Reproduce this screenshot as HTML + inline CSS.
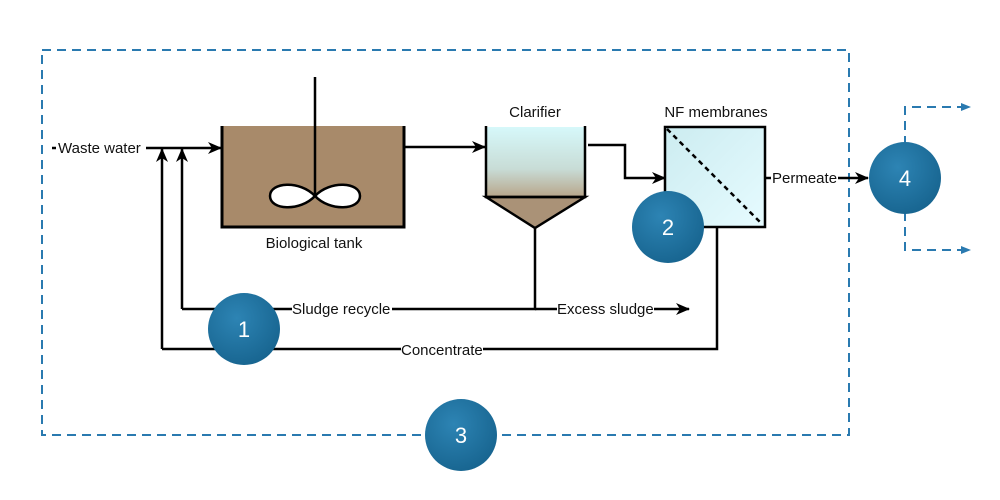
<!DOCTYPE html>
<html><head><meta charset="utf-8"><style>
html,body{margin:0;padding:0;background:#fff;}
svg{display:block;}
text{font-family:"Liberation Sans",sans-serif;font-size:15px;fill:#111;}
.c text{fill:#fff;font-size:22px;}
</style></head><body>
<svg width="1000" height="500" viewBox="0 0 1000 500">
<defs>
<linearGradient id="cl" x1="0" y1="0" x2="0" y2="1"><stop offset="0" stop-color="#d6f8fa"/><stop offset="0.6" stop-color="#c8dcd6"/><stop offset="1" stop-color="#b8a58a"/></linearGradient>
<linearGradient id="nf" x1="0" y1="0" x2="1" y2="1"><stop offset="0" stop-color="#ccecf0"/><stop offset="1" stop-color="#e6fbff"/></linearGradient>
<radialGradient id="cg" cx="0.4" cy="0.35" r="0.7"><stop offset="0" stop-color="#2d84b4"/><stop offset="1" stop-color="#17648f"/></radialGradient>
<marker id="a" markerWidth="14" markerHeight="14" refX="13" refY="7" orient="auto" markerUnits="userSpaceOnUse"><path d="M0,1 L14,7 L0,13 L4,7z" fill="#000"/></marker>
<marker id="b" markerWidth="10" markerHeight="10" refX="9" refY="5" orient="auto" markerUnits="userSpaceOnUse"><path d="M0,1 L10,5 L0,9z" fill="#2a7ab0"/></marker>
</defs>
<rect x="42" y="50" width="807" height="385" fill="none" stroke="#2a7ab0" stroke-width="2" stroke-dasharray="9,6"/>
<path d="M905,145 V107 H970" fill="none" stroke="#2a7ab0" stroke-width="2" stroke-dasharray="9,6" marker-end="url(#b)"/>
<path d="M905,212 V250 H970" fill="none" stroke="#2a7ab0" stroke-width="2" stroke-dasharray="9,6" marker-end="url(#b)"/>
<g fill="none" stroke="#000" stroke-width="2.5">
<line x1="52" y1="148" x2="56" y2="148"/>
<line x1="146" y1="148" x2="221" y2="148" marker-end="url(#a)"/>
<path d="M182,309 V149" marker-end="url(#a)"/>
<path d="M162,349 V149" marker-end="url(#a)"/>
<path d="M405,147 H485" marker-end="url(#a)"/>
<path d="M588,145 H625 V178 H665" marker-end="url(#a)"/>
<path d="M535,228 V309 H182"/>
<path d="M535,309 H557"/>
<path d="M654,309 H689" marker-end="url(#a)"/>
<path d="M717,227 V349 H162"/>
<path d="M766,178 H771"/>
<path d="M838,178 H868" marker-end="url(#a)"/>
</g>
<rect x="221" y="126" width="184" height="102" fill="#a88a6a"/>
<path d="M222,126 V227 H404 V126" fill="none" stroke="#000" stroke-width="3"/>
<line x1="315" y1="77" x2="315" y2="196" stroke="#000" stroke-width="2.5"/>
<path d="M315,196 C300,180 270,182 270,196 C270,210 300,212 315,196 C330,180 360,182 360,196 C360,210 330,212 315,196Z" fill="#fff" stroke="#000" stroke-width="2.5"/>
<rect x="486" y="127" width="99" height="70" fill="url(#cl)"/>
<path d="M486,197 L535,228 L585,197Z" fill="#aa9277" stroke="#000" stroke-width="2.5"/>
<path d="M486,126 V197 H585 V126" fill="none" stroke="#000" stroke-width="2.5"/>
<rect x="665" y="127" width="100" height="100" fill="url(#nf)" stroke="#000" stroke-width="2.5"/>
<line x1="667" y1="129" x2="762" y2="224" stroke="#000" stroke-width="2.5" stroke-dasharray="5,4"/>
<text x="58" y="153">Waste water</text>
<text x="314" y="248" text-anchor="middle">Biological tank</text>
<text x="535" y="117" text-anchor="middle">Clarifier</text>
<text x="716" y="117" text-anchor="middle">NF membranes</text>
<text x="772" y="183">Permeate</text>
<rect x="292" y="301" width="100" height="16" fill="#fff"/>
<text x="292" y="314">Sludge recycle</text>
<rect x="557" y="301" width="97" height="16" fill="#fff"/>
<text x="557" y="314">Excess sludge</text>
<rect x="401" y="341" width="82" height="16" fill="#fff"/>
<text x="401" y="355">Concentrate</text>
<g class="c">
<circle cx="244" cy="329" r="36" fill="url(#cg)"/><text x="244" y="337" text-anchor="middle">1</text>
<circle cx="668" cy="227" r="36" fill="url(#cg)"/><text x="668" y="235" text-anchor="middle">2</text>
<circle cx="461" cy="435" r="36" fill="url(#cg)"/><text x="461" y="443" text-anchor="middle">3</text>
<circle cx="905" cy="178" r="36" fill="url(#cg)"/><text x="905" y="186" text-anchor="middle">4</text>
</g>
</svg>
</body></html>
